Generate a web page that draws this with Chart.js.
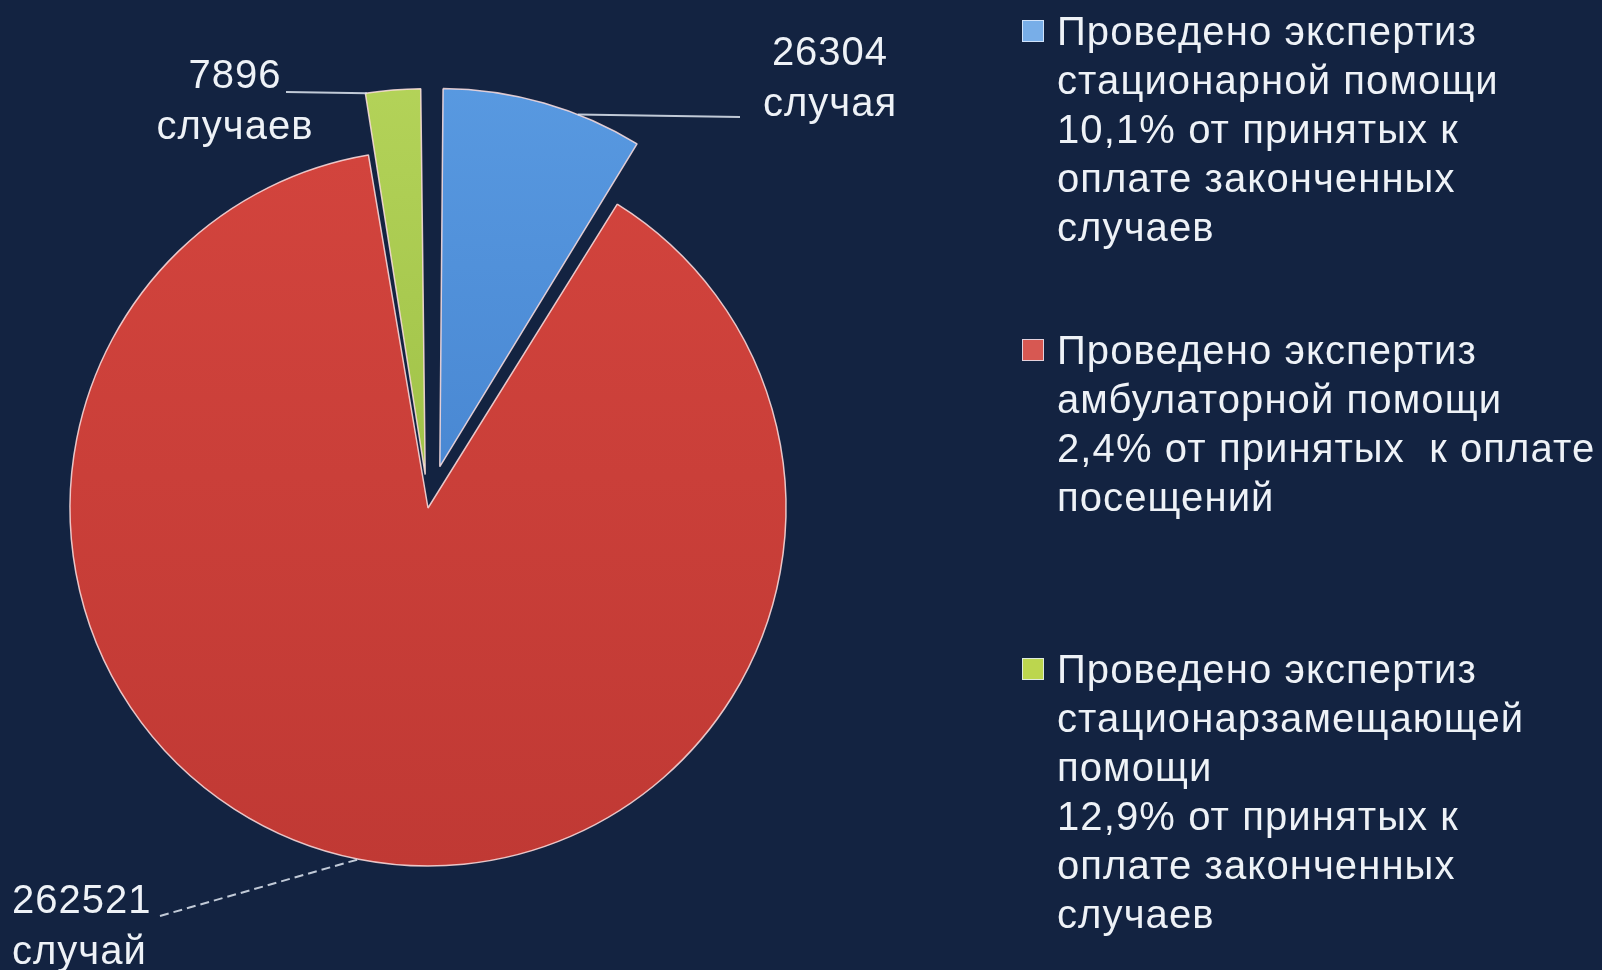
<!DOCTYPE html>
<html>
<head>
<meta charset="utf-8">
<script src="https://cdn.jsdelivr.net/npm/chart.js@4.4.0/dist/chart.umd.min.js"></script>
<style>
html,body{margin:0;padding:0;background:#132341;width:1602px;height:970px;overflow:hidden;font-family:"Liberation Sans",Arial,sans-serif;}
#wrap{position:absolute;left:0;top:0;width:1602px;height:970px;}
canvas{position:absolute;left:0;top:0;}
.lbl{position:absolute;color:#eef2f7;font-size:40px;line-height:51px;white-space:pre;letter-spacing:1px;}
.leg{position:absolute;left:1057px;color:#eef2f7;font-size:40px;line-height:49px;white-space:pre;letter-spacing:1.1px;}
.box{position:absolute;left:1022px;width:20px;height:20px;border:1.5px solid rgba(230,240,255,0.8);}
</style>
</head>
<body>
<div id="wrap">
<canvas id="c" width="1602" height="970"></canvas>
</div>
<script>
// ---- data ----
const categories = [
  'Проведено экспертиз стационарной помощи',
  'Проведено экспертиз амбулаторной помощи',
  'Проведено экспертиз стационарзамещающей помощи'
];
const cases = [26304, 262521, 7896];
const caseWords = ['случая', 'случай', 'случаев'];
const legendLines = [
  ['Проведено экспертиз', 'стационарной помощи', '10,1% от принятых к', 'оплате законченных', 'случаев'],
  ['Проведено экспертиз', 'амбулаторной помощи', '2,4% от принятых  к оплате', 'посещений'],
  ['Проведено экспертиз', 'стационарзамещающей', 'помощи', '12,9% от принятых к', 'оплате законченных', 'случаев']
];

// ---- styles ----
const gradTop = ['#5a9be2', '#d4453e', '#b5d45a'];
const gradBot = ['#3b78c6', '#c03934', '#8fb43a'];
const boxColors = ['#78aee8', '#d75852', '#bcd64e'];
const sliceOffsets = [172, 0, 134];
const legendTops = [7, 326, 645];
const boxTops = [20, 339, 658];
// label placement
const labelPlace = [
  {left: 760, top: 26, width: 140, align: 'center'},
  {left: 12, top: 874, width: 200, align: 'left'},
  {left: 150, top: 49, width: 170, align: 'center'}
];
// leader lines: arc fraction and outer endpoint
const leaders = [
  {t: 0.68, x: 740, y: 117, dash: []},
  {t: 0.50, x: 160, y: 916, dash: [9, 5]},
  {t: 0.06, x: 286, y: 92, dash: []}
];

const wrap = document.getElementById('wrap');
legendLines.forEach((lines, i) => {
  const d = document.createElement('div');
  d.className = 'leg';
  d.style.top = legendTops[i] + 'px';
  d.textContent = lines.join('\n');
  wrap.appendChild(d);
  const b = document.createElement('div');
  b.className = 'box';
  b.style.top = boxTops[i] + 'px';
  b.style.background = boxColors[i];
  wrap.appendChild(b);
});
cases.forEach((v, i) => {
  const d = document.createElement('div');
  d.className = 'lbl';
  const p = labelPlace[i];
  d.style.left = p.left + 'px';
  d.style.top = p.top + 'px';
  d.style.width = p.width + 'px';
  d.style.textAlign = p.align;
  d.textContent = String(v) + '\n' + caseWords[i];
  wrap.appendChild(d);
});

function arcPoint(arc, t) {
  const p = arc.getProps(['x', 'y', 'startAngle', 'endAngle', 'outerRadius', 'circumference'], true);
  const off = (arc.options.offset || 0) / 4;
  const fix = 1 - Math.sin(Math.min(Math.PI, p.circumference || 0));
  const half = (p.startAngle + p.endAngle) / 2;
  const tr = off * (1 + fix);
  const a = p.startAngle + (p.endAngle - p.startAngle) * t;
  return {
    x: p.x + Math.cos(half) * tr + Math.cos(a) * p.outerRadius,
    y: p.y + Math.sin(half) * tr + Math.sin(a) * p.outerRadius
  };
}

const leaderPlugin = {
  id: 'leaders',
  afterDatasetsDraw(chart) {
    const ctx = chart.ctx;
    const meta = chart.getDatasetMeta(0);
    ctx.save();
    ctx.strokeStyle = 'rgba(225,232,242,0.85)';
    ctx.lineWidth = 2;
    meta.data.forEach((arc, i) => {
      const L = leaders[i];
      const pt = arcPoint(arc, L.t);
      ctx.setLineDash(L.dash);
      ctx.beginPath();
      ctx.moveTo(L.x, L.y);
      ctx.lineTo(pt.x, pt.y);
      ctx.stroke();
    });
    ctx.restore();
  }
};

function sliceFill(c) {
  const i = c.dataIndex;
  const area = c.chart.chartArea;
  if (!area) return gradTop[i];
  const g = c.chart.ctx.createLinearGradient(0, 80, 0, 870);
  g.addColorStop(0, gradTop[i]);
  g.addColorStop(1, gradBot[i]);
  return g;
}

new Chart(document.getElementById('c'), {
  type: 'pie',
  data: {
    labels: categories,
    datasets: [{
      data: cases,
      backgroundColor: sliceFill,
      borderColor: 'rgba(255,225,225,0.85)',
      borderWidth: 1.5,
      offset: sliceOffsets,
      radius: 358
    }]
  },
  options: {
    responsive: false,
    devicePixelRatio: 1,
    animation: false,
    layout: {padding: {top: 46, right: 746, bottom: 0, left: 0}},
    plugins: {legend: {display: false}, tooltip: {enabled: false}}
  },
  plugins: [leaderPlugin]
});
</script>
</body>
</html>
